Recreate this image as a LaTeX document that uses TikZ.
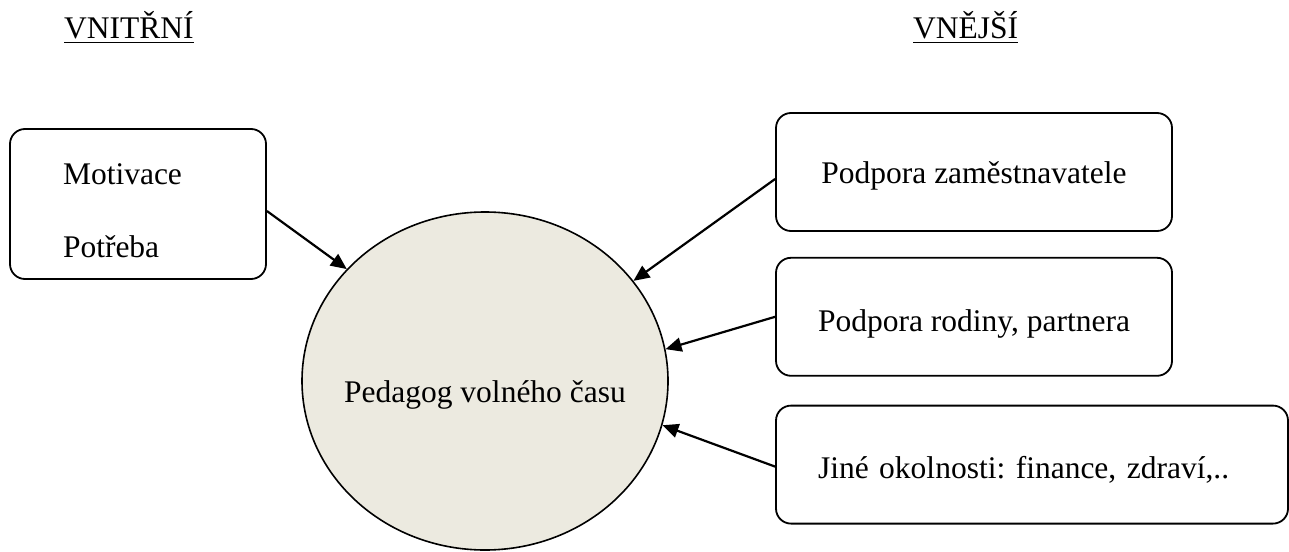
\documentclass[tikz,border=0pt]{standalone}
\usepackage{fontspec}
\setmainfont{Liberation Serif}
\usetikzlibrary{arrows.meta,positioning,shapes.geometric}
\definecolor{pedfill}{RGB}{236,234,224}
\frenchspacing

\begin{document}
\begin{tikzpicture}[x=0.5pt,y=-0.5pt,->,>={Triangle[length=8pt,width=7pt]},line width=1.1pt,
                    every node/.style={font=\fontsize{15.75}{36.5}\selectfont},
                    box/.style={draw,rounded corners=7.5pt,line width=0.9pt,align=left,
                                inner ysep=0pt,inner xsep=21pt,minimum height=59pt,text depth=0pt}]

\useasboundingbox (0,0) rectangle (1289,551);

\node[anchor=base west,inner sep=0pt] (inner) at (63,39) {\underline{VNITŘNÍ}};
\node[anchor=base west,inner sep=0pt] (outer) at (912,39) {\underline{VNĚJŠÍ}};

\node[ellipse,draw,fill=pedfill,line width=0.8pt,minimum width=183pt,minimum height=169pt,
      inner sep=0pt,text height=21pt,text depth=0pt] (ped) at (485,381) {\makebox[0pt]{Pedagog volného času}};

\node[box,minimum height=75pt,inner xsep=26.5pt,text width=75pt,
      text height=16.5pt,text depth=36.5pt] (need) at (138,204) {Motivace\\Potřeba};

\node[box,minimum width=198pt,text height=11pt] (emp) at (974,172) {Podpora zaměstnavatele};
\node[box,minimum width=198pt,text height=15pt] (fam) [below=12.5pt of emp] {Podpora rodiny, partnera};
\node[box,text width=214pt,text height=14pt] (other) [below=14pt of fam.south west,anchor=north west]
      {Jiné okolnosti: finance, zdraví,..};

\path ([yshift=-3.5pt]need.east) edge (ped.141)
      ([yshift=-3.5pt]emp.west)  edge (ped.34)
      (fam.west)                 edge (ped.10)
      ([yshift=-1pt]other.west)  edge (ped.-14);
\end{tikzpicture}
\end{document}
